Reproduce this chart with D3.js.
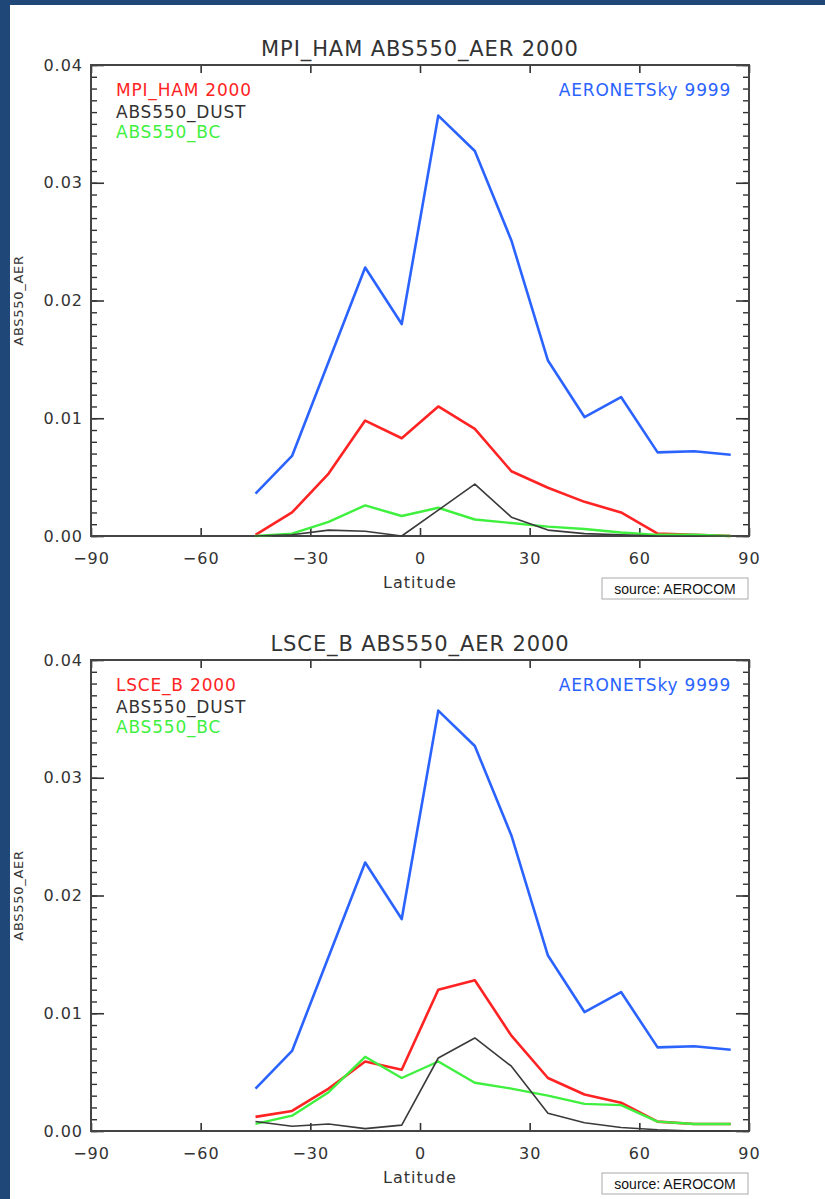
<!DOCTYPE html>
<html>
<head>
<meta charset="utf-8">
<script src="https://cdn.jsdelivr.net/npm/d3@7"></script>
<style>
  html, body { margin: 0; padding: 0; background: #1f4777; }
  svg { display: block; }
</style>
</head>
<body>
<div id="graf"></div>
<script>
// latitude bands (centre of each 10 degree bin)
const lat = [-45, -35, -25, -15, -5, 5, 15, 25, 35, 45, 55, 65, 75, 85];

// AERONET sky observations (same in both panels)
const aeronet = [0.0036, 0.0068, 0.0148, 0.0228, 0.0180, 0.0357, 0.0327, 0.0251, 0.0149, 0.0101, 0.0118, 0.0071, 0.0072, 0.0069];

// MPI_HAM
const mpiTotal = [0.0001, 0.0020, 0.0053, 0.0098, 0.0083, 0.0110, 0.0091, 0.0055, 0.0041, 0.0029, 0.0020, 0.0002, 0.0001, 0.0000];
const mpiDust  = [0.0000, 0.0001, 0.0005, 0.0004, 0.0000, 0.0022, 0.0044, 0.0016, 0.0005, 0.0002, 0.0001, 0.0000, 0.0000, 0.0000];
const mpiBc    = [0.0000, 0.0002, 0.0012, 0.0026, 0.0017, 0.0024, 0.0014, 0.0011, 0.0008, 0.0006, 0.0003, 0.0001, 0.0001, 0.0000];

// LSCE_B
const lsceTotal = [0.0012, 0.0017, 0.0036, 0.0059, 0.0052, 0.0120, 0.0128, 0.0081, 0.0045, 0.0031, 0.0024, 0.0008, 0.0006, 0.0006];
const lsceDust  = [0.0008, 0.0004, 0.0006, 0.0002, 0.0005, 0.0062, 0.0079, 0.0055, 0.0015, 0.0007, 0.0003, 0.0001, 0.0000, 0.0000];
const lsceBc    = [0.0006, 0.0013, 0.0033, 0.0063, 0.0045, 0.0059, 0.0041, 0.0036, 0.0030, 0.0023, 0.0022, 0.0008, 0.0006, 0.0006];

const xTicks = [-90, -60, -30, 0, 30, 60, 90];
const yTicks = [0, 0.01, 0.02, 0.03, 0.04];

const width = 825, height = 1199;
const left = 91, right = 749, plotH = 471;
const font = "'DejaVu Sans', sans-serif";

const svg = d3.create("svg")
    .attr("width", width)
    .attr("height", height);

// white page inside the blue frame
svg.append("rect")
    .attr("x", 10).attr("y", 5)
    .attr("width", width - 10).attr("height", height - 5)
    .attr("fill", "#fff");

const x = d3.scaleLinear().domain([-90, 90]).range([left, right]);

const fmtLat = d => d < 0 ? "\u2212" + Math.abs(d) : String(d);

const drawPanel = (top, model, total, dust, bc) => {
  const y = d3.scaleLinear().domain([0, 0.04]).range([top + plotH, top]);
  const g = svg.append("g");

  // title
  g.append("text")
      .attr("x", (left + right) / 2).attr("y", top - 9)
      .attr("text-anchor", "middle")
      .attr("font-family", font).attr("font-size", 21)
      .attr("letter-spacing", 0.9)
      .attr("fill", "#333")
      .text(model + " ABS550_AER 2000");

  // bottom axis, ticks pointing in
  g.append("g")
      .attr("transform", `translate(0,${top + plotH})`)
      .call(d3.axisBottom(x).tickValues(xTicks).tickSize(-8).tickPadding(17).tickFormat(fmtLat))
      .call(a => a.select(".domain").remove())
      .call(a => a.selectAll("line").attr("stroke", "#333").attr("stroke-width", 1.6))
      .call(a => a.selectAll("text").attr("font-family", font).attr("font-size", 16)
          .attr("letter-spacing", 1).attr("fill", "#333"));

  // top axis
  g.append("g")
      .attr("transform", `translate(0,${top})`)
      .call(d3.axisTop(x).tickValues(xTicks).tickSize(-8).tickFormat(""))
      .call(a => a.select(".domain").remove())
      .call(a => a.selectAll("line").attr("stroke", "#333").attr("stroke-width", 1.6));

  // left axis, major + minor
  g.append("g")
      .attr("transform", `translate(${left},0)`)
      .call(d3.axisLeft(y).tickValues(d3.range(0, 41).map(i => i / 1000)).tickSize(-6).tickFormat(""))
      .call(a => a.select(".domain").remove())
      .call(a => a.selectAll("line").attr("stroke", "#333").attr("stroke-width", 1.4));
  g.append("g")
      .attr("transform", `translate(${left},0)`)
      .call(d3.axisLeft(y).tickValues(yTicks).tickSize(-13).tickPadding(8).tickFormat(d3.format(".2f")))
      .call(a => a.select(".domain").remove())
      .call(a => a.selectAll("line").attr("stroke", "#333").attr("stroke-width", 1.6))
      .call(a => a.selectAll("text").attr("font-family", font).attr("font-size", 16)
          .attr("letter-spacing", 1).attr("fill", "#333"));

  // right axis
  g.append("g")
      .attr("transform", `translate(${right},0)`)
      .call(d3.axisRight(y).tickValues(d3.range(0, 41).map(i => i / 1000)).tickSize(-6).tickFormat(""))
      .call(a => a.select(".domain").remove())
      .call(a => a.selectAll("line").attr("stroke", "#333").attr("stroke-width", 1.4));
  g.append("g")
      .attr("transform", `translate(${right},0)`)
      .call(d3.axisRight(y).tickValues(yTicks).tickSize(-13).tickFormat(""))
      .call(a => a.select(".domain").remove())
      .call(a => a.selectAll("line").attr("stroke", "#333").attr("stroke-width", 1.6));

  // frame
  g.append("rect")
      .attr("x", left).attr("y", top)
      .attr("width", right - left).attr("height", plotH)
      .attr("fill", "none").attr("stroke", "#444").attr("stroke-width", 2);

  // axis titles
  g.append("text")
      .attr("x", (left + right) / 2).attr("y", top + plotH + 52)
      .attr("text-anchor", "middle")
      .attr("font-family", font).attr("font-size", 16).attr("letter-spacing", 1)
      .attr("fill", "#333")
      .text("Latitude");
  g.append("text")
      .attr("transform", `translate(23,${top + plotH / 2}) rotate(-90)`)
      .attr("text-anchor", "middle")
      .attr("font-family", font).attr("font-size", 13).attr("letter-spacing", 0.7)
      .attr("fill", "#333")
      .text("ABS550_AER");

  // series
  const line = d3.line().x((d, i) => x(lat[i])).y(d => y(d));
  const series = [
    {v: aeronet, c: "#2b63ff", w: 2.6},
    {v: total, c: "#ff2323", w: 2.6},
    {v: bc, c: "#3ff03f", w: 2.4},
    {v: dust, c: "#3a3a3a", w: 1.6}
  ];
  g.selectAll("path.s")
    .data(series)
    .join("path")
      .attr("class", "s")
      .attr("fill", "none")
      .attr("stroke", d => d.c)
      .attr("stroke-width", d => d.w)
      .attr("stroke-linejoin", "round")
      .attr("d", d => line(d.v));

  // legend
  const leg = [
    {t: model + " 2000", c: "#ff2323", dy: 31},
    {t: "ABS550_DUST", c: "#333", dy: 53},
    {t: "ABS550_BC", c: "#3ff03f", dy: 73}
  ];
  g.selectAll("text.leg")
    .data(leg)
    .join("text")
      .attr("class", "leg")
      .attr("x", 116).attr("y", d => top + d.dy)
      .attr("font-family", font).attr("font-size", 17).attr("letter-spacing", 0.8)
      .attr("fill", d => d.c)
      .text(d => d.t);
  g.append("text")
      .attr("x", 731).attr("y", top + 31)
      .attr("text-anchor", "end")
      .attr("font-family", font).attr("font-size", 17).attr("letter-spacing", 0.8)
      .attr("fill", "#2b63ff")
      .text("AERONETSky 9999");

  // source box
  g.append("rect")
      .attr("x", 602).attr("y", top + plotH + 42)
      .attr("width", 146).attr("height", 21)
      .attr("fill", "#fff").attr("stroke", "#aaa").attr("stroke-width", 1);
  g.append("text")
      .attr("x", 675).attr("y", top + plotH + 58)
      .attr("text-anchor", "middle")
      .attr("font-family", "'Liberation Sans', Arial, sans-serif").attr("font-size", 14)
      .attr("fill", "#111")
      .text("source: AEROCOM");
};

drawPanel(65, "MPI_HAM", mpiTotal, mpiDust, mpiBc);
drawPanel(660, "LSCE_B", lsceTotal, lsceDust, lsceBc);

d3.select("#graf").append(() => svg.node());
</script>
</body>
</html>
